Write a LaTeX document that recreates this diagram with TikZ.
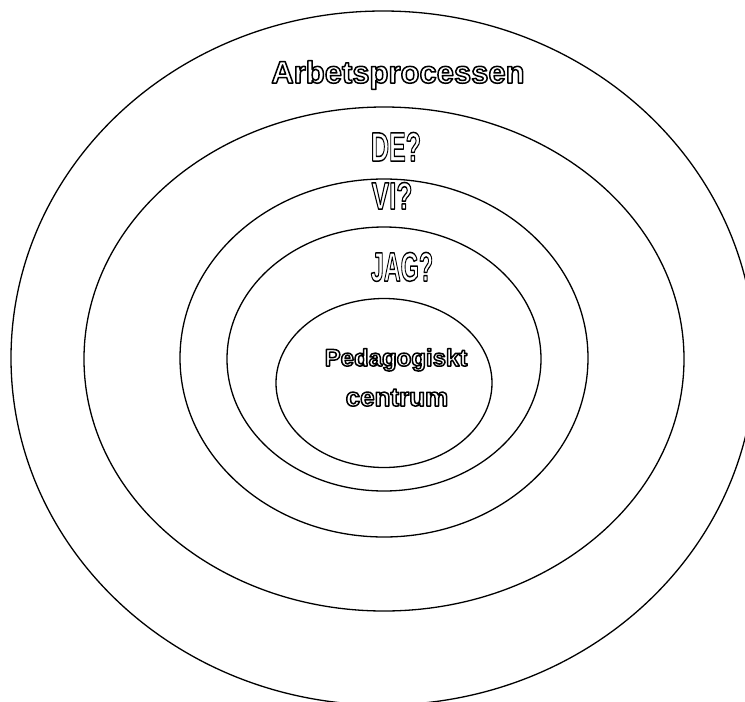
\documentclass[tikz,border=0pt]{standalone}
\usepackage{fontspec}
\setmainfont{Liberation Sans}
\usepackage{graphicx}
\usetikzlibrary{shapes.geometric}

% hollow letters: stroke only, no fill
\newcommand{\hollow}[1]{\special{pdf:literal 1 Tr 1.5 w 1 j}#1\special{pdf:literal 0 Tr 0 j}}
\newcommand{\narrow}[2]{\scalebox{#1}[1]{\hollow{#2}}}

\begin{document}
\begin{tikzpicture}[
    x=1pt, y=-1pt,
    ring/.style={ellipse, draw, line width=1.3pt, inner sep=0pt},
    ringtext/.style={anchor=base, inner sep=0pt, font=\bfseries}
]
\useasboundingbox (0,0) rectangle (745,702);

% Rings, outside in
\node[ring, minimum width=744pt, minimum height=694pt] (work) at (383,358) {};
\node[ring, minimum width=600pt, minimum height=504pt] (they) at (384,359) {};
\node[ring, minimum width=408pt, minimum height=358pt] (we) at (384,358) {};
\node[ring, minimum width=314pt, minimum height=264pt] (me) at (384,359) {};
\node[ring, minimum width=216pt, minimum height=169pt] (centre) at (384,383) {};

% Labels
\node[ringtext, font=\bfseries\fontsize{31}{31}\selectfont] (worklabel) at (398,83) {\hollow{Arbetsprocessen}};
\node[ringtext, font=\bfseries\fontsize{41}{41}\selectfont] (theylabel) at (396,161) {\narrow{0.61}{DE?}};
\node[ringtext, font=\bfseries\fontsize{38}{38}\selectfont] (welabel) at (392,209) {\narrow{0.69}{VI?}};
\node[ringtext, font=\bfseries\fontsize{41}{41}\selectfont] (melabel) at (402,281) {\narrow{0.57}{JAG?}};
\node[ringtext, font=\bfseries\fontsize{24}{24}\selectfont] (centrelabel) at (396,366) {\hollow{Pedagogiskt}};
\node[ringtext, font=\bfseries\fontsize{26}{26}\selectfont] (centrelabel2) at (397,406) {\hollow{centrum}};

\end{tikzpicture}
\end{document}
